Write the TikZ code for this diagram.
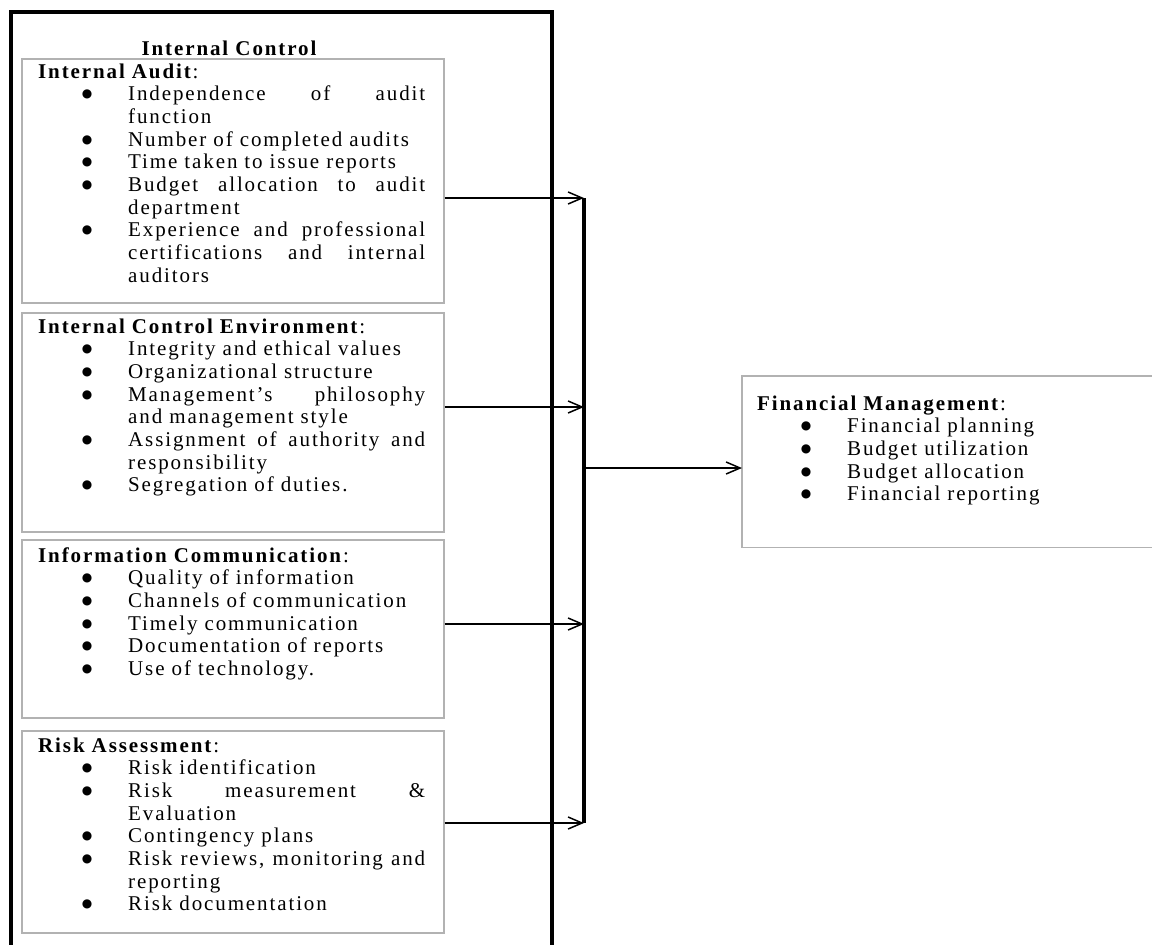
\documentclass[tikz,border=0pt]{standalone}
\usepackage{fontspec}
\setmainfont{Liberation Serif}[LetterSpace=9]
\newfontfamily\dotfont{DejaVu Sans}
\usepackage{xcolor}
\usepackage{tikz}
\usetikzlibrary{arrows.meta}

\newlength{\colw}
\setlength{\colw}{297pt}
\newcommand{\dotmark}{\raisebox{3pt}{\dotfont\fontsize{12}{12}\selectfont ●}}
\newcommand{\bul}[1]{\par\noindent\hspace*{49pt}\makebox[0pt][c]{\dotmark}\hspace*{41pt}#1}
\newcommand{\bulj}[1]{\bul{\hbox to\colw{#1}}}
\newcommand{\cont}[1]{\par\noindent\hspace*{90pt}#1}
\newcommand{\contj}[1]{\cont{\hbox to\colw{#1}}}

\begin{document}
\begin{tikzpicture}[x=1pt, y=-1pt,
    cbox/.style={draw=black!30, line width=1.5pt, inner sep=0pt, anchor=north west},
    ctext/.style={anchor=base west, inner sep=0pt, text width=420pt, font=\fontsize{21}{22.7}\selectfont},
    link/.style={-{Straight Barb[length=14pt, width=12pt]}, line width=1.5pt},
    ctrlframe/.style={line width=3.5pt}]
    \useasboundingbox (0,0) rectangle (1152,945);

    % Internal control frame
    \draw[ctrlframe] (11,12) rectangle (552,990);
    \node[anchor=base, inner sep=0pt, font=\bfseries\fontsize{21}{22.7}\selectfont] (ictitle) at (229,55) {Internal Control};

    % Dimension boxes
    \node[cbox, minimum width=422pt, minimum height=244pt] (ia) at (21,58) {};
    \node[cbox, minimum width=422pt, minimum height=219pt] (ice) at (21,312) {};
    \node[cbox, minimum width=422pt, minimum height=178pt] (icm) at (21,539) {};
    \node[cbox, minimum width=422pt, minimum height=202pt] (ra) at (21,730) {};

    \node[ctext] (iatext) at (38,78) {%
        \textbf{Internal Audit}:
        \bulj{Independence\hfill of\hfill audit}
        \cont{function}
        \bul{Number of completed audits}
        \bul{Time taken to issue reports}
        \bulj{Budget\hfill allocation\hfill to\hfill audit}
        \cont{department}
        \bulj{Experience\hfill and\hfill professional}
        \contj{certifications\hfill and\hfill internal}
        \cont{auditors}};

    \node[ctext] (icetext) at (38,333) {%
        \textbf{Internal Control Environment}:
        \bul{Integrity and ethical values}
        \bul{Organizational structure}
        \bulj{Management's\hfill philosophy}
        \cont{and management style}
        \bulj{Assignment\hfill of\hfill authority\hfill and}
        \cont{responsibility}
        \bul{Segregation of duties.}};

    \node[ctext] (icmtext) at (38,562) {%
        \textbf{Information Communication}:
        \bul{Quality of information}
        \bul{Channels of communication}
        \bul{Timely communication}
        \bul{Documentation of reports}
        \bul{Use of technology.}};

    \node[ctext] (ratext) at (38,752) {%
        \textbf{Risk Assessment}:
        \bul{Risk identification}
        \bulj{Risk\hfill measurement\hfill \&}
        \cont{Evaluation}
        \bul{Contingency plans}
        \bulj{Risk\hfill reviews,\hfill monitoring\hfill and}
        \cont{reporting}
        \bul{Risk documentation}};

    % Financial management box (runs off the right edge)
    \node[minimum width=470pt, minimum height=171pt, inner sep=0pt, anchor=north west] (fm) at (742,376) {};
    \draw[draw=black!30, line width=1.5pt] (fm.north east) -- (fm.north west) -- (fm.south west) -- (fm.south east);
    \node[ctext] (fmtext) at (757,410) {%
        \textbf{Financial Management}:
        \bul{Financial planning}
        \bul{Budget utilization}
        \bul{Budget allocation}
        \bul{Financial reporting}};

    % Joining bar and arrows
    \coordinate (j1) at (584,198);
    \coordinate (j2) at (584,407);
    \coordinate (j3) at (584,624);
    \coordinate (j4) at (584,823);
    \coordinate (jout) at (584,468);
    \draw[line width=3.5pt] (j1) -- (j4);
    \foreach \b/\j in {ia/j1, ice/j2, icm/j3, ra/j4} {
        \draw[link] (\b.east |- \j) -- (\j);
    }
    \draw[link] (jout) -- (fm.west |- jout);
\end{tikzpicture}
\end{document}
